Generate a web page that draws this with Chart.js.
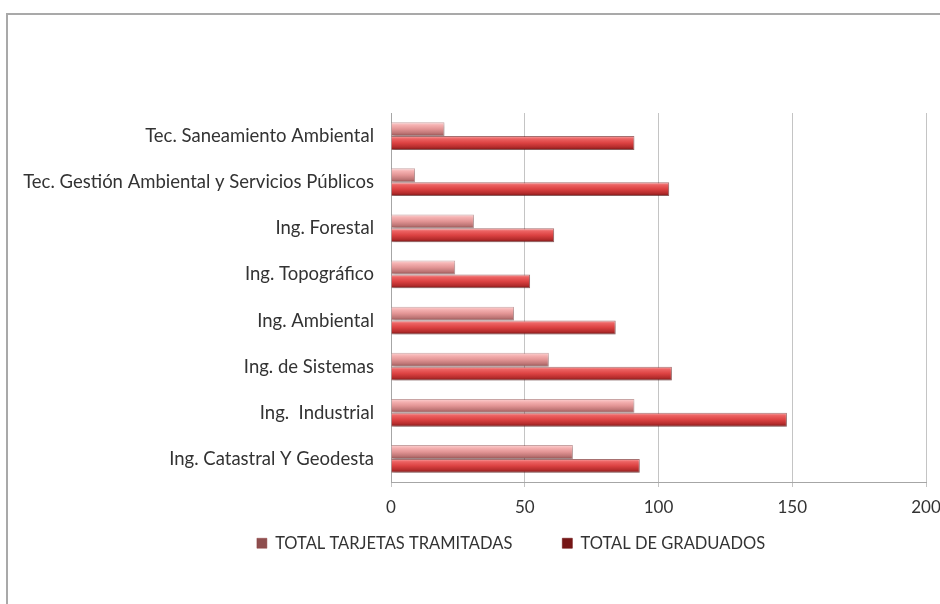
<!DOCTYPE html>
<html>
<head>
<meta charset="utf-8">
<script src="https://cdn.jsdelivr.net/npm/chart.js@4/dist/chart.umd.min.js"></script>
<style>
  html, body { margin: 0; padding: 0; background: #fff; }
  #wrap { position: relative; width: 940px; height: 604px; overflow: hidden; }
  #frame { position: absolute; left: 6px; top: 13px; width: 1000px; height: 1000px;
           border-left: 2px solid #a9a9a9; border-top: 2px solid #a9a9a9; }
  #myChart { position: absolute; left: 0; top: 0; }
</style>
</head>
<body>
<div id="wrap">
  <div id="frame"></div>
  <canvas id="myChart" width="940" height="604"></canvas>
</div>
<script>
/* DATA */
const categories = [
  'Tec. Saneamiento Ambiental',
  'Tec. Gestión Ambiental y Servicios Públicos',
  'Ing. Forestal',
  'Ing. Topográfico',
  'Ing. Ambiental',
  'Ing. de Sistemas',
  'Ing.  Industrial',
  'Ing. Catastral Y Geodesta'
];
const tarjetas = [20, 9, 31, 24, 46, 59, 91, 68];
const graduados = [91, 104, 61, 52, 84, 105, 148, 93];
const xTicks = [0, 50, 100, 150, 200];

const FONT = 'Lato, "Open Sans", sans-serif';

/* gradient across the thickness of each bar, so it looks bevelled */
function bevel(stops) {
  return function(c) {
    const el = c.element;
    if (c.type !== 'data' || !el || !el.height) return stops[2][1];
    const top = el.y - el.height / 2;
    const g = c.chart.ctx.createLinearGradient(0, top, 0, top + el.height);
    stops.forEach(function(s) { g.addColorStop(s[0], s[1]); });
    return g;
  };
}

/* soft shadow under the bars */
const shadowPlugin = {
  id: 'barShadow',
  beforeDatasetsDraw(chart) {
    const ctx = chart.ctx;
    ctx.save();
    ctx.shadowColor = 'rgba(0,0,0,0.25)';
    ctx.shadowBlur = 3;
    ctx.shadowOffsetX = 1;
    ctx.shadowOffsetY = 2;
  },
  afterDatasetsDraw(chart) {
    chart.ctx.restore();
  }
};

/* legend sits a bit right of the canvas centre and right under the axis labels */
const legendShift = {
  id: 'legendShift',
  afterLayout(chart) {
    const lg = chart.legend;
    lg.left += 42; lg.right += 42;
    lg.top -= 37; lg.bottom -= 37;
  }
};

const ctx = document.getElementById('myChart').getContext('2d');

const chart = new Chart(ctx, {
  type: 'bar',
  data: {
    labels: categories,
    datasets: [{
      label: 'TOTAL TARJETAS TRAMITADAS',
      data: tarjetas,
      backgroundColor: bevel([[0, '#fcd4d4'], [0.22, '#f4b0b0'], [0.5, '#e29494'], [0.8, '#bc7474'], [1, '#8e4e4e']]),
      borderColor: 'rgba(140,60,60,0.45)',
      borderWidth: 1,
    },
    {
      label: 'TOTAL DE GRADUADOS',
      data: graduados,
      backgroundColor: bevel([[0, '#f8a8a8'], [0.2, '#ec6262'], [0.5, '#dc4242'], [0.8, '#b42c2c'], [1, '#761616']]),
      borderColor: 'rgba(110,20,20,0.6)',
      borderWidth: 1,
    }],
  },
  options: {
    indexAxis: 'y',
    responsive: false,
    animation: false,
    layout: { padding: { left: 12, right: 14, top: 113, bottom: 5.5 } },
    datasets: {
      bar: { categoryPercentage: 0.6, barPercentage: 1 }
    },
    scales: {
      x: {
        min: xTicks[0],
        max: xTicks[xTicks.length - 1],
        ticks: {
          stepSize: xTicks[1] - xTicks[0],
          color: '#333',
          font: { family: FONT, size: 17 },
          padding: 10,
        },
        grid: { color: '#c4c4c4', tickLength: 5, lineWidth: 1 },
        border: { color: '#a6a6a6' },
        afterFit: function(s) { s.paddingRight = 0; s.paddingLeft = 0; s.height = 40; },
      },
      y: {
        ticks: {
          color: '#333',
          font: { family: FONT, size: 18.5 },
          padding: 17,
        },
        grid: { display: false, drawTicks: false },
        border: { color: '#a6a6a6' },
        afterFit: function(s) { s.width = 391 - 12; },
      }
    },
    plugins: {
      legend: {
        position: 'bottom',
        labels: {
          color: '#333',
          font: { family: FONT, size: 16.5 },
          boxWidth: 10,
          boxHeight: 10,
          padding: 50,
        }
      },
      tooltip: { enabled: false }
    }
  },
  plugins: [shadowPlugin, legendShift]
});

/* second pass so the gradients know where the bars are */
chart.update('none');
</script>
</body>
</html>
